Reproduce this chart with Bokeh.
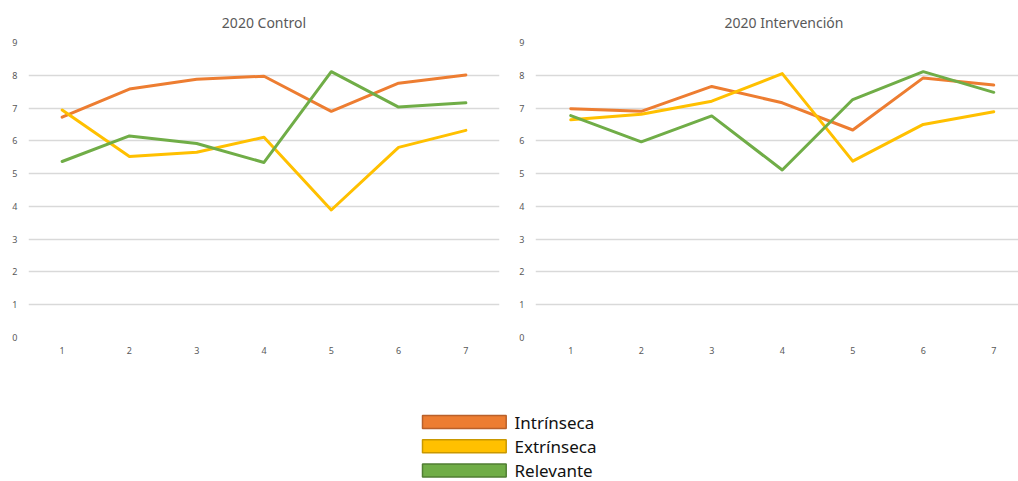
from bokeh.plotting import figure
from bokeh.layouts import column, row
from bokeh.models import Range1d, FixedTicker, ColumnDataSource
from bokeh.core.properties import value
from bokeh.embed import file_html
from bokeh.resources import INLINE

# Series data (scores by session 1..7)
sessions = [1, 2, 3, 4, 5, 6, 7]
series_names = ["Intrínseca", "Extrínseca", "Relevante"]
series_colors = ["#ED7D31", "#FFC000", "#70AD47"]
series_borders = ["#B9602A", "#C99800", "#507E33"]

control_intrinseca = [6.72, 7.58, 7.88, 7.97, 6.90, 7.76, 8.01]
control_extrinseca = [6.94, 5.52, 5.65, 6.11, 3.89, 5.80, 6.32]
control_relevante = [5.37, 6.15, 5.92, 5.34, 8.11, 7.03, 7.16]

interv_intrinseca = [6.98, 6.90, 7.66, 7.16, 6.33, 7.92, 7.70]
interv_extrinseca = [6.64, 6.81, 7.21, 8.05, 5.38, 6.50, 6.89]
interv_relevante = [6.77, 5.97, 6.76, 5.11, 7.26, 8.11, 7.48]

y_ticks = [0, 1, 2, 3, 4, 5, 6, 7, 8, 9]

FONT = "Noto Sans"
GRID = "#D9D9D9"
LABEL = "#595959"


def make_panel(title, data, width, border_left, border_right, x_end):
    p = figure(width=width, height=400, output_backend="svg", toolbar_location=None,
               x_range=Range1d(0.5, x_end), y_range=Range1d(0, 9),
               min_border_left=border_left, min_border_right=border_right,
               min_border_top=41, min_border_bottom=63)
    p.outline_line_color = None
    p.background_fill_color = "white"
    p.border_fill_color = "white"
    p.title.text = title
    p.title.align = "center"
    p.title.text_font = FONT
    p.title.text_font_size = "14px"
    p.title.text_font_style = "normal"
    p.title.text_color = LABEL
    p.title.standoff = 21

    p.xgrid.visible = False
    p.ygrid.ticker = FixedTicker(ticks=y_ticks)
    p.ygrid.grid_line_color = GRID
    p.ygrid.grid_line_width = 1.5

    p.yaxis.ticker = FixedTicker(ticks=y_ticks)
    p.xaxis.ticker = FixedTicker(ticks=sessions)
    for ax in (p.xaxis[0], p.yaxis[0]):
        ax.axis_line_color = None
        ax.major_tick_line_color = None
        ax.minor_tick_line_color = None
        ax.major_tick_out = 0
        ax.major_tick_in = 0
        ax.major_label_text_font = FONT
        ax.major_label_text_font_size = "9px"
        ax.major_label_text_color = LABEL
    p.yaxis.major_label_standoff = 11
    p.xaxis.major_label_standoff = 9

    for name, color, ys in zip(series_names, series_colors, data):
        src = ColumnDataSource(dict(x=sessions, y=ys))
        p.line("x", "y", source=src, line_color=color, line_width=3,
               line_join="round", line_cap="round")
    return p


left = make_panel("2020 Control",
                  [control_intrinseca, control_extrinseca, control_relevante],
                  510, 28, 11, 7.5)
right = make_panel("2020 Intervención",
                   [interv_intrinseca, interv_extrinseca, interv_relevante],
                   508, 25, 0, 0.5 + 483 / 70.5)
# the right panel runs past the page edge, so its title is placed from the left
right.title.align = "left"
right.title.offset = 189

# Shared legend below both panels
leg = figure(width=1018, height=81, output_backend="svg", toolbar_location=None,
             x_range=Range1d(0, 1018), y_range=Range1d(81, 0),
             min_border=0)
leg.axis.visible = False
leg.grid.visible = False
leg.outline_line_color = None
row_y = [21.5 + 24.2 * i for i in range(len(series_names))]
leg.quad(left=[422] * 3, right=[505.7] * 3,
         top=[y - 6.5 for y in row_y], bottom=[y + 6.5 for y in row_y],
         fill_color=series_colors, line_color=series_borders, line_width=1.5)
leg.text(x=[514] * 3, y=row_y, text=series_names,
         text_font=value(FONT), text_font_size="17px", text_color="#111111",
         text_baseline="middle", text_align="left", text_line_height=1.0)

layout = column(row(left, right, spacing=0), leg, spacing=0)
open("out.html", "w").write(file_html(layout, INLINE))
